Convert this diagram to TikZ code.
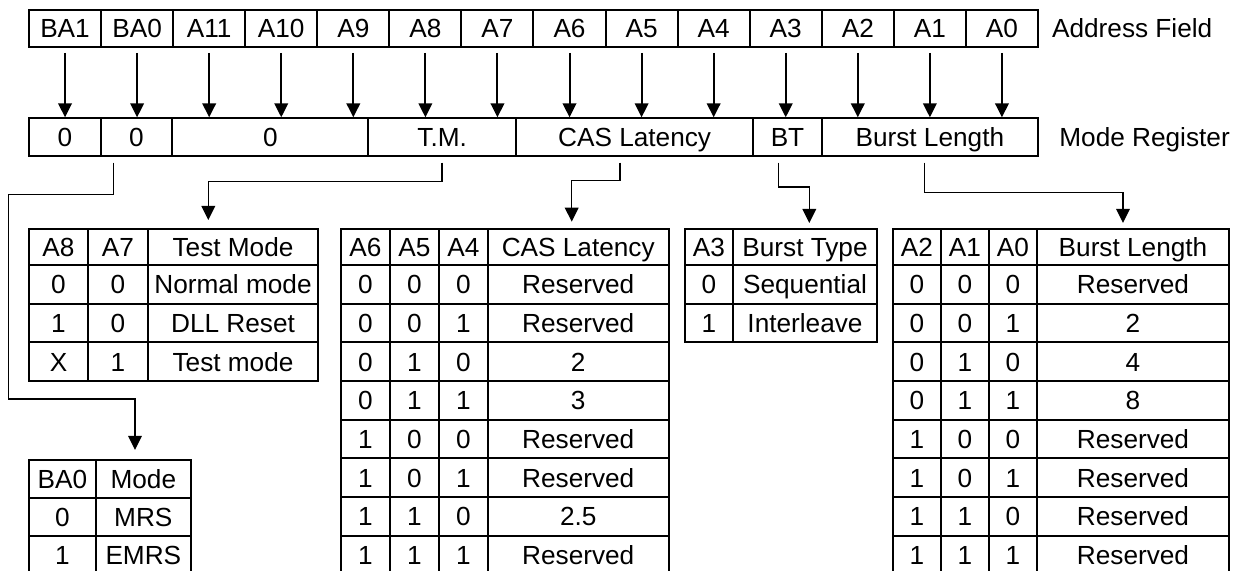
\documentclass[tikz,border=0pt]{standalone}
\usepackage{fontspec}
\setmainfont{Liberation Sans}
\usetikzlibrary{arrows.meta}
\tikzstyle{cell} = [draw, rectangle, line width=1pt, inner sep=0pt, text height=9.4pt, text depth=0pt, font=\fontsize{13.1pt}{15.7pt}\selectfont]
\tikzstyle{lbl} = [inner sep=0pt, anchor=west, text height=9.4pt, text depth=0pt, font=\fontsize{13.1pt}{15.7pt}\selectfont]
\tikzstyle{wire} = [line width=1pt, -{Triangle[width=6.8pt,length=7pt]}]
\tikzstyle{elbow} = [line width=0.7pt, -{Triangle[width=6.8pt,length=7pt]}]
% cell from its corners: name, x1, y1, x2, y2, text
\newcommand{\cellbox}[6]{\node[cell, minimum width={((#4)-(#2))*0.5pt}, minimum height={((#5)-(#3))*0.5pt}] (#1) at ({((#2)+(#4))/2},{((#3)+(#5))/2}) {#6}}

\begin{document}
\begin{tikzpicture}[x=0.5pt,y=-0.5pt]
		\useasboundingbox (0,0) rectangle (1237,571);
		\clip (0,0) rectangle (1237,571);

		\foreach \lbl [count=\i from 0] in {BA1,BA0,A11,A10,A9,A8,A7,A6,A5,A4,A3,A2,A1,A0}
			\cellbox{ad\i}{29+\i*72.07}{10}{101.07+\i*72.07}{46.7}{\lbl};
		\node [lbl] (addr) at (1051.7,28.3) {Address Field};

		\cellbox{mr0}{29}{118.3}{100.7}{155.7}{0};
		\cellbox{mr1}{100.7}{118.3}{172.3}{155.7}{0};
		\cellbox{mr2}{172.3}{118.3}{368.3}{155.7}{0};
		\cellbox{mrtm}{368.3}{118.3}{516}{155.7}{T.M.};
		\cellbox{mrcas}{516}{118.3}{753.3}{155.7}{CAS Latency};
		\cellbox{mrbt}{753.3}{118.3}{821.7}{155.7}{BT};
		\cellbox{mrbl}{821.7}{118.3}{1038}{155.7}{Burst Length};
		\node [lbl] (modereg) at (1059,137) {Mode Register};

		\foreach \i in {0,...,13}
			\draw [wire] ([yshift=-2.65pt]ad\i.south) -- (ad\i.south |- mr0.north);

		\coordinate (baIn) at (135,450);
		\coordinate (tmIn) at (208.3,220);
		\coordinate (casIn) at (571.7,221.7);
		\coordinate (btIn) at (809.3,223);
		\coordinate (blIn) at (1123,223);

		\draw [elbow] ([xshift=-11.6pt,yshift=-3pt]mr1.south) -- ++(0,31.6) -| (8.3,399) -| (baIn);
		\draw [elbow] ([yshift=-3pt]mrtm.south) -- ++(0,18.7) -| (tmIn);
		\draw [elbow] ([xshift=-7.35pt,yshift=-3pt]mrcas.south) -- ++(0,17.6) -| (casIn);
		\draw [elbow] ([xshift=-4.6pt,yshift=-3pt]mrbt.south) -- ++(0,24.3) -| (btIn);
		\draw [elbow] ([xshift=-2.8pt,yshift=-3pt]mrbl.south) -- ++(0,30) -| (blIn);

		% test mode
		\foreach \p/\q/\t [count=\r from 0] in {A8/A7/Test Mode,0/0/Normal mode,1/0/DLL Reset,X/1/Test mode} {
			\pgfmathsetmacro\ya{max(229.3,226.3+\r*38.7)}
			\pgfmathsetmacro\yb{265+\r*38.7}
			\cellbox{tm\r-a}{29}{\ya}{88}{\yb}{\p};
			\cellbox{tm\r-b}{88}{\ya}{148}{\yb}{\q};
			\cellbox{tm\r-c}{148}{\ya}{318}{\yb}{\t};
		}
		% BA0 mode
		\foreach \p/\t [count=\r from 0] in {BA0/Mode,0/MRS,1/EMRS} {
			\pgfmathsetmacro\ya{460+\r*38}
			\pgfmathsetmacro\yb{498+\r*38}
			\cellbox{ba\r-a}{29}{\ya}{95.7}{\yb}{\p};
			\cellbox{ba\r-b}{95.7}{\ya}{191}{\yb}{\t};
		}
		% CAS latency
		\foreach \p/\q/\s/\t [count=\r from 0] in {A6/A5/A4/CAS Latency,0/0/0/Reserved,0/0/1/Reserved,0/1/0/2,0/1/1/3,1/0/0/Reserved,1/0/1/Reserved,1/1/0/2.5,1/1/1/Reserved} {
			\pgfmathsetmacro\ya{max(229.3,226.3+\r*38.7)}
			\pgfmathsetmacro\yb{265+\r*38.7}
			\cellbox{cas\r-a}{340.7}{\ya}{390}{\yb}{\p};
			\cellbox{cas\r-b}{390}{\ya}{439}{\yb}{\q};
			\cellbox{cas\r-c}{439}{\ya}{488}{\yb}{\s};
			\cellbox{cas\r-d}{488}{\ya}{668.5}{\yb}{\t};
		}
		% burst type
		\foreach \p/\t [count=\r from 0] in {A3/Burst Type,0/Sequential,1/Interleave} {
			\pgfmathsetmacro\ya{max(229.3,226.3+\r*38.7)}
			\pgfmathsetmacro\yb{265+\r*38.7}
			\cellbox{bt\r-a}{685}{\ya}{733}{\yb}{\p};
			\cellbox{bt\r-b}{733}{\ya}{877}{\yb}{\t};
		}
		% burst length
		\foreach \p/\q/\s/\t [count=\r from 0] in {A2/A1/A0/Burst Length,0/0/0/Reserved,0/0/1/2,0/1/0/4,0/1/1/8,1/0/0/Reserved,1/0/1/Reserved,1/1/0/Reserved,1/1/1/Reserved} {
			\pgfmathsetmacro\ya{max(229.3,226.3+\r*38.7)}
			\pgfmathsetmacro\yb{265+\r*38.7}
			\cellbox{bl\r-a}{892.7}{\ya}{941}{\yb}{\p};
			\cellbox{bl\r-b}{941}{\ya}{989}{\yb}{\q};
			\cellbox{bl\r-c}{989}{\ya}{1037}{\yb}{\s};
			\cellbox{bl\r-d}{1037}{\ya}{1229}{\yb}{\t};
		}
	\end{tikzpicture}
\end{document}
